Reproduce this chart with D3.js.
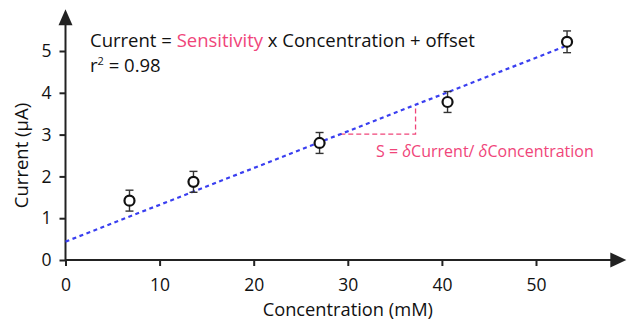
<!DOCTYPE html>
<html>
<head>
<meta charset="utf-8">
<script src="https://cdn.jsdelivr.net/npm/d3@7"></script>
<style>
  body { margin: 0; background: #fff; }
  svg { display: block; font-family: "Open Sans", sans-serif; }
</style>
</head>
<body>
<div id="chart"></div>
<script>
// measured points (concentration in mM, current in uA)
const concentration = [6.8, 13.6, 27, 40.6, 53.3];
const current = [1.42, 1.87, 2.8, 3.78, 5.22];
const currentErr = [0.25, 0.25, 0.25, 0.25, 0.26];

// fitted line as drawn
const fitIntercept = 0.44;
const fitSlope = 0.088;
const fitRange = [0, 53];

// slope triangle
const triX = [29.2, 37.2];

const xTicks = [0, 10, 20, 30, 40, 50];
const yTicks = [0, 1, 2, 3, 4, 5];
const xAxisMax = 59.6;
const yAxisMax = 6.0;

const width = 627, height = 322;

const svg = d3.select("#chart")
  .append("svg")
    .attr("width", width)
    .attr("height", height);

const x = d3.scaleLinear().domain([0, 50]).range([65.5, 536]);
const y = d3.scaleLinear().domain([0, 5]).range([260, 51]);

const axisColor = "#222";

// x axis
const xAxis = svg.append("g")
  .attr("transform", "translate(0," + y(0) + ")")
  .call(d3.axisBottom(x).tickValues(xTicks).tickFormat(d3.format("d"))
    .tickSize(6).tickSizeOuter(0).tickPadding(13));
xAxis.select(".domain").remove();
xAxis.selectAll("line").attr("stroke", axisColor).attr("stroke-width", 2);
xAxis.selectAll("text").attr("fill", "#111").style("font-size", "17.5px").style("font-family", "Open Sans, sans-serif");

// y axis
const yAxis = svg.append("g")
  .attr("transform", "translate(" + x(0) + ",0)")
  .call(d3.axisLeft(y).tickValues(yTicks).tickFormat(d3.format("d"))
    .tickSize(6).tickSizeOuter(0).tickPadding(8));
yAxis.select(".domain").remove();
yAxis.selectAll("line").attr("stroke", axisColor).attr("stroke-width", 2);
yAxis.selectAll("text").attr("fill", "#111").style("font-size", "17.5px").style("font-family", "Open Sans, sans-serif");

// axis lines with arrowheads
const xTip = x(xAxisMax), yTip = y(yAxisMax);
svg.append("line")
  .attr("x1", x(0)).attr("x2", xTip - 10)
  .attr("y1", y(0)).attr("y2", y(0))
  .attr("stroke", axisColor).attr("stroke-width", 2);
svg.append("path")
  .attr("d", `M${xTip},${y(0)} L${xTip - 16},${y(0) - 7.5} L${xTip - 16},${y(0) + 7.5} Z`)
  .attr("fill", axisColor);
svg.append("line")
  .attr("x1", x(0)).attr("x2", x(0))
  .attr("y1", y(0)).attr("y2", yTip + 10)
  .attr("stroke", axisColor).attr("stroke-width", 2);
svg.append("path")
  .attr("d", `M${x(0)},${yTip} L${x(0) - 7},${yTip + 16} L${x(0) + 7},${yTip + 16} Z`)
  .attr("fill", axisColor);

// axis titles
svg.append("text")
  .attr("x", x(30))
  .attr("y", 316)
  .attr("text-anchor", "middle")
  .attr("fill", "#111")
  .style("font-size", "18.3px")
  .text("Concentration (mM)");

svg.append("text")
  .attr("transform", "translate(28," + y(2.5) + ") rotate(-90)")
  .attr("text-anchor", "middle")
  .attr("fill", "#111")
  .style("font-size", "18.5px")
  .text("Current (μA)");

// slope triangle
const pink = "#f0457a";
const fit = v => fitIntercept + fitSlope * v;
svg.append("path")
  .attr("d", `M${x(triX[0])},${y(fit(triX[0]))} L${x(triX[1])},${y(fit(triX[0]))} L${x(triX[1])},${y(fit(triX[1]))}`)
  .attr("fill", "none")
  .attr("stroke", pink)
  .attr("stroke-width", 1.3)
  .attr("stroke-dasharray", "5,3");

// fit line
svg.append("line")
  .attr("x1", x(fitRange[0])).attr("y1", y(fit(fitRange[0])))
  .attr("x2", x(fitRange[1])).attr("y2", y(fit(fitRange[1])))
  .attr("stroke", "#3a3ff0")
  .attr("stroke-width", 2.2)
  .attr("stroke-dasharray", "4,3.5");

// data points with error bars
const pts = concentration.map((c, i) => ({c: c, v: current[i], e: currentErr[i]}));
const g = svg.append("g");
const pt = g.selectAll("g.pt").data(pts).enter().append("g").attr("class", "pt");
pt.append("line")
  .attr("x1", d => x(d.c)).attr("x2", d => x(d.c))
  .attr("y1", d => y(d.v - d.e)).attr("y2", d => y(d.v + d.e))
  .attr("stroke", "#333").attr("stroke-width", 1.4);
pt.append("line")
  .attr("x1", d => x(d.c) - 4).attr("x2", d => x(d.c) + 4)
  .attr("y1", d => y(d.v + d.e)).attr("y2", d => y(d.v + d.e))
  .attr("stroke", "#333").attr("stroke-width", 1.4);
pt.append("line")
  .attr("x1", d => x(d.c) - 4).attr("x2", d => x(d.c) + 4)
  .attr("y1", d => y(d.v - d.e)).attr("y2", d => y(d.v - d.e))
  .attr("stroke", "#333").attr("stroke-width", 1.4);
pt.append("circle")
  .attr("cx", d => x(d.c)).attr("cy", d => y(d.v))
  .attr("r", 5)
  .attr("fill", "#fff")
  .attr("stroke", "#111")
  .attr("stroke-width", 2.2);

// equation
const eq = svg.append("text")
  .attr("x", 90)
  .attr("y", 47)
  .attr("fill", "#111")
  .style("font-size", "18.5px");
eq.append("tspan").text("Current = ");
eq.append("tspan").attr("fill", pink).text("Sensitivity");
eq.append("tspan").text(" x Concentration + offset");

const r2 = svg.append("text")
  .attr("x", 90)
  .attr("y", 72)
  .attr("fill", "#111")
  .style("font-size", "18.5px");
r2.append("tspan").text("r");
r2.append("tspan").attr("dy", -7).style("font-size", "11px").text("2");
r2.append("tspan").attr("dy", 7).text(" = 0.98");

// slope label
const sl = svg.append("text")
  .attr("x", 376)
  .attr("y", 157)
  .attr("fill", pink)
  .style("font-size", "16px");
sl.append("tspan").text("S = ");
sl.append("tspan").style("font-style", "italic").text("δ");
sl.append("tspan").text("Current/ ");
sl.append("tspan").style("font-style", "italic").text("δ");
sl.append("tspan").text("Concentration");
</script>
</body>
</html>
